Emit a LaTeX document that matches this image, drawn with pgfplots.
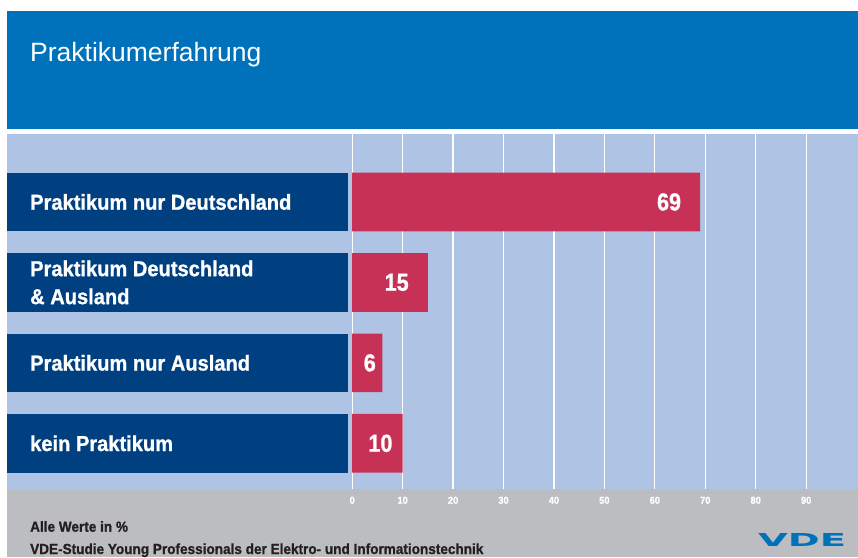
\documentclass[border=0pt]{standalone}
\usepackage{pgfplots}
\pgfplotsset{compat=1.18}
\usepackage{pgfplotstable}
\usepackage{fontspec}
\setmainfont{Liberation Sans}
\newfontfamily\cond{Liberation Sans}[FakeStretch=0.93, BoldFeatures={FakeBold=1}]
\newfontfamily\numfont{Liberation Sans}[FakeStretch=0.88, BoldFeatures={FakeBold=1}]
\newfontfamily\logofont{DejaVu Sans}

\definecolor{hdrblue}{RGB}{0,113,187}
\definecolor{panelblue}{RGB}{175,196,228}
\definecolor{panelgray}{RGB}{188,189,193}
\definecolor{labelblue}{RGB}{0,63,128}
\definecolor{barred}{RGB}{199,49,85}
\definecolor{foottext}{RGB}{35,31,32}

% pos = row (0 = bottom), shift = label offset from bar end
\pgfplotstableread{
pos val shift lab
3   69  -19   69
2   15  -19   15
1   6   -6.5  6
0   10  -10   10
}\praktikum

\begin{document}
\begin{tikzpicture}
\useasboundingbox (0,0) rectangle (858pt,557pt);
\fill[white] (0,0) rectangle (858pt,557pt);
\fill[hdrblue] (7pt,428.3pt) rectangle (858pt,546pt);
\fill[panelblue] (7pt,67.7pt) rectangle (858pt,423.3pt);
\fill[panelgray] (7pt,0pt) rectangle (858pt,67.7pt);
\foreach \k in {0,1,2,3}
  \fill[labelblue] (7pt,{113.7pt+80.43pt*\k-29.35pt}) rectangle (348pt,{113.7pt+80.43pt*\k+29.35pt});
\node[anchor=base west, inner sep=0, text=white, font=\fontsize{26.5}{30}\selectfont] at (30pt,495pt) {Praktikumerfahrung};

\begin{axis}[
  at={(7pt,67.7pt)}, anchor=south west, scale only axis,
  width=851pt, height=355.6pt,
  xmin=-68.44, xmax=100.28, ymin=-0.572, ymax=3.849,
  axis line style={draw=none},
  xtick={0,10,...,90}, ytick={0,1,2,3},
  yticklabels={kein Praktikum, Praktikum nur Ausland, {Praktikum Deutschland\\\& Ausland}, Praktikum nur Deutschland},
  major tick length=0pt,
  xmajorgrids, major grid style={white, line width=1.3pt},
  /pgf/number format/assume math mode=true,
  xticklabel style={anchor=center, yshift=-11pt, inner sep=0, text=white, font=\cond\bfseries\fontsize{10}{12}\selectfont},
  yticklabel style={anchor=west, xshift=23pt, inner sep=0, align=left, text=white, font=\cond\bfseries\fontsize{21.6}{28}\selectfont},
  clip=false,
]
\addplot[xbar, bar width=58.7pt, fill=barred, draw=none,
  nodes near coords, point meta=explicit symbolic,
  visualization depends on={\thisrow{shift} \as \sh},
  every node near coord/.append style={anchor=east, xshift=\sh pt, inner sep=0, text=white, font=\numfont\bfseries\fontsize{24.5}{28}\selectfont}]
  table[x=val, y=pos, meta=lab] {\praktikum};
\end{axis}

\node[anchor=base west, inner sep=0, text=foottext, font=\cond\bfseries\fontsize{14.6}{16}\selectfont] at (30pt,25.3pt) {Alle Werte in \%};
\node[anchor=base west, inner sep=0, text=foottext, font=\cond\bfseries\fontsize{14.6}{16}\selectfont] at (30pt,3pt) {VDE-Studie Young Professionals der Elektro- und Informationstechnik};
\node[anchor=base west, inner sep=0, text=hdrblue, font=\logofont\bfseries] at (758pt,11pt) {\resizebox{88pt}{13pt}{VDE}};
\end{tikzpicture}
\end{document}
